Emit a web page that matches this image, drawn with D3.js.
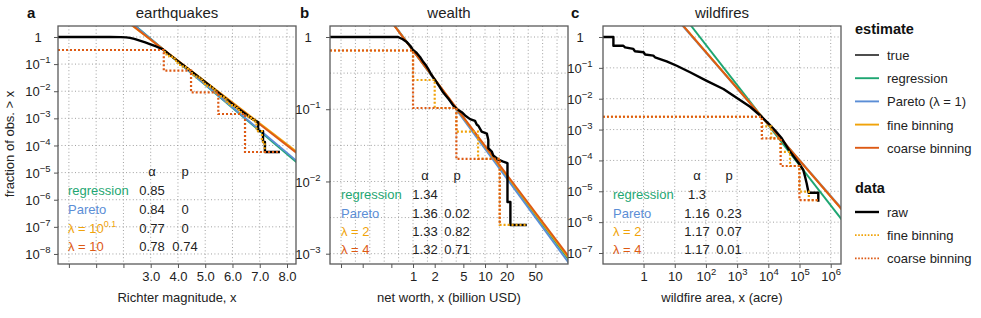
<!DOCTYPE html>
<html>
<head>
<meta charset="utf-8">
<script src="https://cdn.jsdelivr.net/npm/d3@7/dist/d3.min.js"></script>
<style>
  body { margin: 0; background: #fff; }
  svg text { font-family: "Liberation Sans", Arial, Helvetica, sans-serif; }
</style>
</head>
<body>
<svg id="chart" width="981" height="318"></svg>
<script>
// estimate colours, same order everywhere: regression, Pareto, fine binning, coarse binning
const estimateColors = ["#1ea672", "#5b8ed6", "#f0a30a", "#dd5a14"];

// ---- a: earthquakes (x = Richter magnitude, fractions kept as log10)
const quakeRawM = [-0.4, 1.5, 1.9, 2.1, 2.24, 2.4, 2.6, 2.8, 2.97, 3.2, 3.45, 3.7, 4.0, 4.3, 4.6, 4.9, 5.2, 5.5, 5.8, 6.1, 6.4, 6.6, 6.8, 6.94, 6.94, 7.12, 7.12, 7.19, 7.19, 7.74];
const quakeRawLogF = [0, 0, -0.005, -0.015, -0.035, -0.07, -0.135, -0.2, -0.26, -0.35, -0.46, -0.66, -0.89, -1.12, -1.35, -1.58, -1.82, -2.07, -2.31, -2.56, -2.78, -2.93, -3.07, -3.14, -3.47, -3.47, -3.87, -3.87, -4.24, -4.24];
const quakeFineM = [-0.4, 3.48, 3.58, 3.68, 3.78, 3.88, 3.98, 4.08, 4.18, 4.28, 4.38, 4.48, 4.58, 4.68, 4.78, 4.88, 4.98, 5.08, 5.18, 5.28, 5.38, 5.48, 5.58, 5.68, 5.78, 5.88, 5.98, 6.08, 6.18, 6.28, 6.38, 6.48, 6.58, 6.68, 6.78, 6.88, 6.98, 7.08, 7.18, 7.28, 7.74];
const quakeFineLogF = [-0.48, -0.48, -0.56, -0.64, -0.72, -0.80, -0.88, -0.95, -1.03, -1.11, -1.18, -1.25, -1.33, -1.41, -1.49, -1.57, -1.65, -1.73, -1.81, -1.89, -1.97, -2.05, -2.13, -2.21, -2.30, -2.38, -2.46, -2.54, -2.62, -2.70, -2.77, -2.84, -2.92, -2.99, -3.06, -3.12, -3.47, -3.47, -3.87, -4.24, -4.24];
const quakeCoarseM = [-0.4, 3.48, 4.48, 5.48, 6.46, 7.67];
const quakeCoarseLogF = [-0.48, -0.48, -1.24, -2.04, -2.84, -4.24];
const quakeFitM = [2.3, 8.4];
const quakeFitLogF = [[0.5275, -4.6575], [0.516, -4.608], [0.4355, -4.2615], [0.447, -4.311]];
const quakeRows = [["regression"], ["Pareto"], ["λ = 10", "0.1"], ["λ = 10"]];
const quakeAlpha = ["0.85", "0.84", "0.77", "0.78"];
const quakeP = ["", "0", "0", "0.74"];

// ---- b: wealth (billion USD)
const wealthRawX = [0.0703, 0.62, 0.72, 0.82, 0.92, 0.99, 1.125, 1.25, 1.39, 1.5, 1.63, 1.8, 2.02, 2.3, 2.63, 3.1, 3.63, 4.05, 4.75, 5.28, 6.2, 7.26, 7.7, 8.08, 8.97, 10.6, 11.1, 11.1, 12.4, 13.0, 15.3, 17.9, 20.5, 20.5, 22.5, 22.5, 38];
const wealthRawF = [1, 1, 0.93, 0.85, 0.75, 0.67, 0.60, 0.53, 0.45, 0.41, 0.36, 0.30, 0.255, 0.21, 0.17, 0.14, 0.112, 0.101, 0.091, 0.082, 0.073, 0.069, 0.061, 0.059, 0.049, 0.046, 0.0376, 0.029, 0.026, 0.023, 0.020, 0.0188, 0.018, 0.0052, 0.0052, 0.0025, 0.0025];
const wealthFineX = [0.0703, 1, 2, 4, 8, 16, 32, 38];
const wealthFineF = [0.65, 0.65, 0.254, 0.104, 0.049, 0.0205, 0.0025, 0.0025];
const wealthCoarseX = [0.0703, 1, 4, 16, 16];
const wealthCoarseF = [0.65, 0.65, 0.104, 0.0205, 0.0025];
const wealthFitX = [0.3, 150];
const wealthFitLogF = [[0.514, -3.103], [0.524, -3.146], [0.509, -3.081], [0.503, -3.059]];
const wealthRows = [["regression"], ["Pareto"], ["λ = 2"], ["λ = 4"]];
const wealthAlpha = ["1.34", "1.36", "1.33", "1.32"];
const wealthP = ["", "0.02", "0.82", "0.71"];

// ---- c: wildfires (acre)
const fireRawX = [0.05, 0.108, 0.108, 0.225, 0.255, 0.47, 0.53, 1.0, 1.12, 2.06, 2.33, 5.5, 11.6, 31, 106, 363, 1300, 2600, 6100, 10000, 16000, 27000, 50000, 72000, 105000, 132000, 150000, 170000, 195000, 400000, 400000];
const fireRawF = [1, 1, 0.52, 0.52, 0.46, 0.41, 0.345, 0.32, 0.27, 0.25, 0.22, 0.163, 0.117, 0.072, 0.038, 0.0207, 0.0088, 0.0055, 0.0026, 0.0016, 9.7e-4, 5.2e-4, 1.9e-4, 1.17e-4, 7.1e-5, 4.9e-5, 3e-5, 1.8e-5, 9e-6, 9e-6, 4.6e-6];
const fireFineX = [0.05, 6200, 12400, 24800, 49600, 99200, 198400, 396800];
const fireFineF = [0.0026, 0.0026, 1.26e-3, 5.2e-4, 1.9e-4, 6.6e-5, 9.8e-6, 5.2e-6];
const fireCoarseX = [0.05, 6200, 24800, 99200, 396800];
const fireCoarseF = [0.0026, 0.0026, 5.2e-4, 6.6e-5, 5.2e-6];
const fireFitX = [1, 2.5e6];
const fireFitLogF = [[2.345, -5.975], [1.814, -5.61], [1.852, -5.636], [1.852, -5.636]];
const fireRows = [["regression"], ["Pareto"], ["λ = 2"], ["λ = 4"]];
const fireAlpha = ["1.3", "1.16", "1.17", "1.17"];
const fireP = ["", "0.23", "0.07", "0.01"];

// legend entries
const estimateLabels = ["true", "regression", "Pareto (λ = 1)", "fine binning", "coarse binning"];
const dataLabels = ["raw", "fine binning", "coarse binning"];

const plotTop = 26, plotBottom = 264;
const svg = d3.select("#chart");
svg.append("rect").attr("width", 981).attr("height", 318).attr("fill", "#fff");

const pow10 = v => Math.pow(10, v);
const expLabel = v => {
  const e = Math.round(Math.log10(v));
  if (e === 0) return ["1"];
  if (e === 1) return ["10"];
  return ["10", String(e).replace("-", "\u2212")];
};

function setSup(text, parts, supSize) {
  text.text(null);
  text.append("tspan").text(parts[0]);
  if (parts[1]) text.append("tspan").attr("dy", -6).attr("font-size", supSize || 9.5).text(parts[1]);
}

const panels = [
  {
    key: "a", letter: "a", title: "earthquakes", xTitle: "Richter magnitude, x", letterX: 27,
    x: d3.scaleLinear().domain([-0.4, 8.33]).range([58, 296]),
    y: d3.scaleLog().domain([pow10(0.405), pow10(-8.37)]).range([plotTop, plotBottom]),
    xTicks: d3.range(0, 9), xFmt: d => d >= 3 ? [d3.format(".1f")(d)] : [""],
    xGrid: d3.range(0, 9), yTicks: d3.range(0, -9, -1).map(pow10), yGrid: d3.range(0, -9, -1).map(pow10),
    yLabelX: 38,
    raw: d3.zip(quakeRawM, quakeRawLogF.map(pow10)),
    fine: d3.zip(quakeFineM, quakeFineLogF.map(pow10)),
    coarse: d3.zip(quakeCoarseM, quakeCoarseLogF.map(pow10)),
    fits: quakeFitLogF.map(f => d3.zip(quakeFitM, f.map(pow10))),
    table: { rows: quakeRows, alpha: quakeAlpha, p: quakeP, labelX: 68, alphaX: 152, pX: 185, headY: 176, rowY: [195, 214, 233, 251] }
  },
  {
    key: "b", letter: "b", title: "wealth", xTitle: "net worth, x (billion USD)", letterX: 300,
    x: d3.scaleLog().domain([0.0703, 142]).range([330, 568]),
    y: d3.scaleLog().domain([1.42, 7.2e-4]).range([plotTop, plotBottom]),
    xTicks: [0.1, 0.2, 0.5, 1, 2, 5, 10, 20, 50], xFmt: d => d >= 1 ? [String(d)] : [""],
    xGrid: d3.range(-5, 11).map(k => pow10(k / 5)), yTicks: [1, 0.1, 0.01, 0.001], yGrid: d3.range(0, 7).map(k => pow10(-k / 2)),
    yLabelX: 308,
    raw: d3.zip(wealthRawX, wealthRawF),
    fine: d3.zip(wealthFineX, wealthFineF),
    coarse: d3.zip(wealthCoarseX, wealthCoarseF),
    fits: wealthFitLogF.map(f => d3.zip(wealthFitX, f.map(pow10))),
    table: { rows: wealthRows, alpha: wealthAlpha, p: wealthP, labelX: 341, alphaX: 425, pX: 457, headY: 180, rowY: [199, 218, 236, 254] }
  },
  {
    key: "c", letter: "c", title: "wildfires", xTitle: "wildfire area, x (acre)", letterX: 571,
    x: d3.scaleLog().domain([pow10(-1.3), pow10(6.33)]).range([603, 841]),
    y: d3.scaleLog().domain([pow10(0.356), pow10(-7.356)]).range([plotTop, plotBottom]),
    xTicks: d3.range(0, 7).map(pow10), xFmt: expLabel,
    xGrid: d3.range(0, 7).map(pow10), yTicks: d3.range(0, -8, -1).map(pow10), yGrid: d3.range(0, -8, -1).map(pow10),
    yLabelX: 580,
    raw: d3.zip(fireRawX, fireRawF),
    fine: d3.zip(fireFineX, fireFineF),
    coarse: d3.zip(fireCoarseX, fireCoarseF),
    fits: fireFitLogF.map(f => d3.zip(fireFitX, f.map(pow10))),
    table: { rows: fireRows, alpha: fireAlpha, p: fireP, labelX: 613, alphaX: 697, pX: 729, headY: 180, rowY: [199, 218, 236, 254] }
  }
];

function drawPanel(p) {
  const [x0, x1] = p.x.range();
  const g = svg.append("g");
  const clipId = "clip-" + p.key;
  svg.append("clipPath").attr("id", clipId).append("rect")
    .attr("x", x0).attr("y", plotTop).attr("width", x1 - x0).attr("height", plotBottom - plotTop);

  // dotted grid
  const grid = g.append("g").attr("stroke", "#a0a0a0").attr("stroke-width", 1).attr("stroke-dasharray", "1,2.4");
  grid.selectAll(".gx").data(p.xGrid).join("line").attr("class", "gx")
    .attr("x1", d => p.x(d)).attr("x2", d => p.x(d)).attr("y1", plotTop).attr("y2", plotBottom);
  grid.selectAll(".gy").data(p.yGrid).join("line").attr("class", "gy")
    .attr("x1", x0).attr("x2", x1).attr("y1", d => p.y(d)).attr("y2", d => p.y(d));

  const inner = g.append("g").attr("clip-path", `url(#${clipId})`);
  const line = d3.line().x(d => p.x(d[0])).y(d => p.y(d[1]));
  const step = d3.line().x(d => p.x(d[0])).y(d => p.y(d[1])).curve(d3.curveStepBefore);

  p.fits.forEach((pts, i) => {
    inner.append("path").datum(pts).attr("d", line)
      .attr("fill", "none").attr("stroke", estimateColors[i]).attr("stroke-width", 1.9);
  });
  inner.append("path").datum(p.raw).attr("d", line)
    .attr("fill", "none").attr("stroke", "#000").attr("stroke-width", 2.4).attr("stroke-linejoin", "round");
  inner.append("path").datum(p.fine).attr("d", step)
    .attr("fill", "none").attr("stroke", estimateColors[2]).attr("stroke-width", 2.2).attr("stroke-dasharray", "2,2");
  inner.append("path").datum(p.coarse).attr("d", step)
    .attr("fill", "none").attr("stroke", estimateColors[3]).attr("stroke-width", 2.2).attr("stroke-dasharray", "2,2");

  g.append("rect").attr("x", x0).attr("y", plotTop).attr("width", x1 - x0).attr("height", plotBottom - plotTop)
    .attr("fill", "none").attr("stroke", "#5a5a5a").attr("stroke-width", 1.3);

  // axes
  const ax = g.append("g").attr("transform", `translate(0,${plotBottom})`)
    .call(d3.axisBottom(p.x).tickValues(p.xTicks).tickSize(4).tickFormat(""));
  ax.select(".domain").remove();
  ax.attr("font-size", 13).attr("font-family", null);
  ax.selectAll("line").attr("stroke", "#555");
  ax.selectAll("text").attr("y", 17).attr("dy", null).attr("fill", "#222")
    .each(function (d) { setSup(d3.select(this), p.xFmt(d)); });

  const ay = g.append("g").attr("transform", `translate(${x0},0)`)
    .call(d3.axisLeft(p.y).tickValues(p.yTicks).tickSize(4).tickFormat(""));
  ay.select(".domain").remove();
  ay.attr("font-size", 13).attr("font-family", null);
  ay.selectAll("line").attr("stroke", "#555");
  ay.selectAll("text").attr("x", p.yLabelX - x0).attr("dy", "0.35em").attr("text-anchor", "middle").attr("fill", "#222")
    .each(function (d) { setSup(d3.select(this), expLabel(d)); });

  // titles
  g.append("text").attr("x", (x0 + x1) / 2).attr("y", 18).attr("text-anchor", "middle")
    .attr("font-size", 15).attr("fill", "#222").text(p.title);
  g.append("text").attr("x", p.letterX).attr("y", 18).attr("font-size", 15).attr("font-weight", "bold")
    .attr("fill", "#111").text(p.letter);
  g.append("text").attr("x", (x0 + x1) / 2).attr("y", 302).attr("text-anchor", "middle")
    .attr("font-size", 13).attr("fill", "#222").text(p.xTitle);

  // alpha / p table
  const t = p.table;
  const tg = g.append("g").attr("font-size", 13);
  tg.append("text").attr("x", t.alphaX).attr("y", t.headY).attr("text-anchor", "middle").attr("fill", "#222").text("α");
  tg.append("text").attr("x", t.pX).attr("y", t.headY).attr("text-anchor", "middle").attr("fill", "#222").text("p");
  t.rows.forEach((r, i) => {
    const lab = tg.append("text").attr("x", t.labelX).attr("y", t.rowY[i]).attr("fill", estimateColors[i]);
    setSup(lab, r, 9);
    tg.append("text").attr("x", t.alphaX).attr("y", t.rowY[i]).attr("text-anchor", "middle").attr("fill", "#222").text(t.alpha[i]);
    tg.append("text").attr("x", t.pX).attr("y", t.rowY[i]).attr("text-anchor", "middle").attr("fill", "#222").text(t.p[i]);
  });
}

panels.forEach(drawPanel);

svg.append("text").attr("transform", "translate(14,144) rotate(-90)").attr("text-anchor", "middle")
  .attr("font-size", 13).attr("fill", "#222").text("fraction of obs. > x");

// legend
const lg = svg.append("g").attr("font-size", 13);
lg.append("text").attr("x", 855).attr("y", 34).attr("font-size", 14.5).attr("font-weight", "bold").attr("fill", "#111").text("estimate");
const estStroke = ["#000"].concat(estimateColors);
estimateLabels.forEach((name, i) => {
  const y = 55 + i * 23.2;
  lg.append("line").attr("x1", 855).attr("x2", 879).attr("y1", y).attr("y2", y)
    .attr("stroke", estStroke[i]).attr("stroke-width", i === 0 ? 1.4 : 1.9);
  lg.append("text").attr("x", 887).attr("y", y + 5).attr("fill", "#222").text(name);
});
lg.append("text").attr("x", 855).attr("y", 193).attr("font-size", 14.5).attr("font-weight", "bold").attr("fill", "#111").text("data");
const dataStroke = ["#000", estimateColors[2], estimateColors[3]];
dataLabels.forEach((name, i) => {
  const y = 212 + i * 23.2;
  lg.append("line").attr("x1", 855).attr("x2", 879).attr("y1", y).attr("y2", y)
    .attr("stroke", dataStroke[i]).attr("stroke-width", i === 0 ? 2.4 : 1.8)
    .attr("stroke-dasharray", i === 0 ? null : "1.6,1.6");
  lg.append("text").attr("x", 887).attr("y", y + 5).attr("fill", "#222").text(name);
});
</script>
</body>
</html>
